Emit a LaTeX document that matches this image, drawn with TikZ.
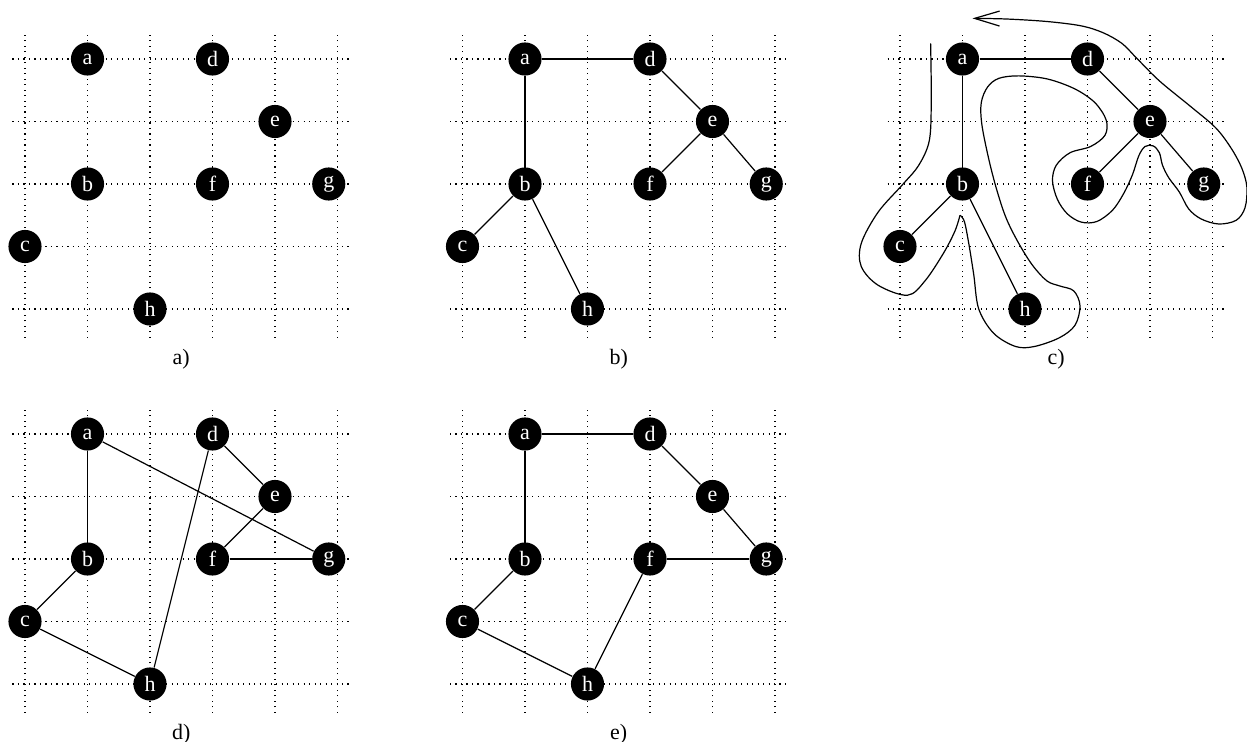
\documentclass[tikz,border=0pt]{standalone}
\usepackage{fontspec}
\setmainfont{Liberation Serif}
\usepackage{tikz}
\usetikzlibrary{arrows.meta}

\begin{document}
\begin{tikzpicture}[x=1cm,y=1cm,
        vtx/.style={circle,fill=black,text=white,inner sep=0pt,minimum size=0.53cm,font=\normalsize},
        gridl/.style={line width=0.5pt,dash pattern=on 0.5pt off 2pt},
        edge/.style={line width=0.55pt},
        tour/.style={line width=0.55pt,line join=round}]
    \useasboundingbox (-0.4,-6.928) rectangle (19.552,4.944);
    % the five panels: grid, vertices, caption
    \foreach \p/\dx/\dy/\cap in {1/0/0/a,2/7/0/b,3/14/0/c,4/0/-6/d,5/7/-6/e}{
        \begin{scope}[shift={(\dx,\dy)}]
            \foreach \i in {0,...,5} \draw[gridl] (\i,-0.46) -- (\i,4.44);
            \foreach \j in {0,...,4} \draw[gridl] (-0.2,\j) -- (5.2,\j);
            \node[vtx] (a\p) at (1,4) {a};
            \node[vtx] (d\p) at (3,4) {d};
            \node[vtx] (e\p) at (4,3) {e};
            \node[vtx] (b\p) at (1,2) {b};
            \node[vtx] (f\p) at (3,2) {f};
            \node[vtx] (g\p) at (4.86,2) {g};
            \node[vtx] (c\p) at (0,1) {c};
            \node[vtx] (h\p) at (2,0) {h};
            \node (cap\p) at (2.5,-0.8) {\cap)};
        \end{scope}
    }
    % b) spanning tree
    \draw[edge] (a2)--(d2); \draw[edge] (a2)--(b2); \draw[edge] (d2)--(e2);
    \draw[edge] (e2)--(f2); \draw[edge] (e2)--(g2); \draw[edge] (b2)--(c2); \draw[edge] (b2)--(h2);
    % c) same tree with the walk around it
    \draw[edge] (a3)--(d3); \draw[edge] (a3)--(b3); \draw[edge] (d3)--(e3);
    \draw[edge] (e3)--(f3); \draw[edge] (e3)--(g3); \draw[edge] (b3)--(c3); \draw[edge] (b3)--(h3);
    \begin{scope}[shift={(14,0)}]
        \draw[tour] plot[smooth,tension=0.55] coordinates {(0.49,4.25) (0.50,3.35) (0.47,2.7)
            (0.30,2.3) (0.05,2.0) (-0.35,1.55) (-0.62,1.05) (-0.62,0.68) (-0.35,0.38) (0.12,0.22)
            (0.40,0.45) (0.70,0.90) (0.88,1.25) (0.96,1.50)};
        \draw[tour,-{Straight Barb[length=4mm,width=2.4mm]}] plot[smooth,tension=0.55] coordinates {
            (0.96,1.50) (1.03,1.40) (1.10,1.05) (1.18,0.55) (1.26,0.0) (1.50,-0.39) (1.85,-0.60)
            (2.15,-0.60) (2.55,-0.46) (2.80,-0.26) (2.88,0.05) (2.78,0.29) (2.55,0.37) (2.35,0.45)
            (2.12,0.70) (1.90,1.05) (1.70,1.45) (1.55,1.90) (1.42,2.40) (1.31,2.95) (1.30,3.30)
            (1.40,3.55) (1.58,3.69) (1.90,3.73) (2.36,3.68) (2.80,3.52) (3.12,3.30) (3.30,3.02)
            (3.28,2.78) (3.05,2.60) (2.72,2.50) (2.50,2.30) (2.44,2.05) (2.52,1.75) (2.68,1.52)
            (2.90,1.39) (3.15,1.40) (3.40,1.58) (3.58,1.85) (3.72,2.15) (3.82,2.45) (3.92,2.60)
            (4.05,2.61) (4.15,2.50) (4.20,2.30) (4.30,2.10) (4.47,1.87) (4.62,1.60) (4.82,1.44)
            (5.10,1.36) (5.38,1.42) (5.52,1.62) (5.55,1.95) (5.47,2.25) (5.30,2.57) (5.05,2.90)
            (4.65,3.24) (4.15,3.65) (3.78,4.02) (3.55,4.25) (3.25,4.42) (2.90,4.53) (2.35,4.60)
            (1.70,4.64) (1.16,4.65)};
    \end{scope}
    % d) tour
    \draw[edge] (a4)--(b4); \draw[edge] (a4)--(g4); \draw[edge] (d4)--(e4); \draw[edge] (d4)--(h4);
    \draw[edge] (e4)--(f4); \draw[edge] (f4)--(g4); \draw[edge] (b4)--(c4); \draw[edge] (c4)--(h4);
    % e) improved tour
    \draw[edge] (a5)--(d5); \draw[edge] (a5)--(b5); \draw[edge] (d5)--(e5); \draw[edge] (e5)--(g5);
    \draw[edge] (f5)--(g5); \draw[edge] (f5)--(h5); \draw[edge] (b5)--(c5); \draw[edge] (c5)--(h5);
\end{tikzpicture}
\end{document}
